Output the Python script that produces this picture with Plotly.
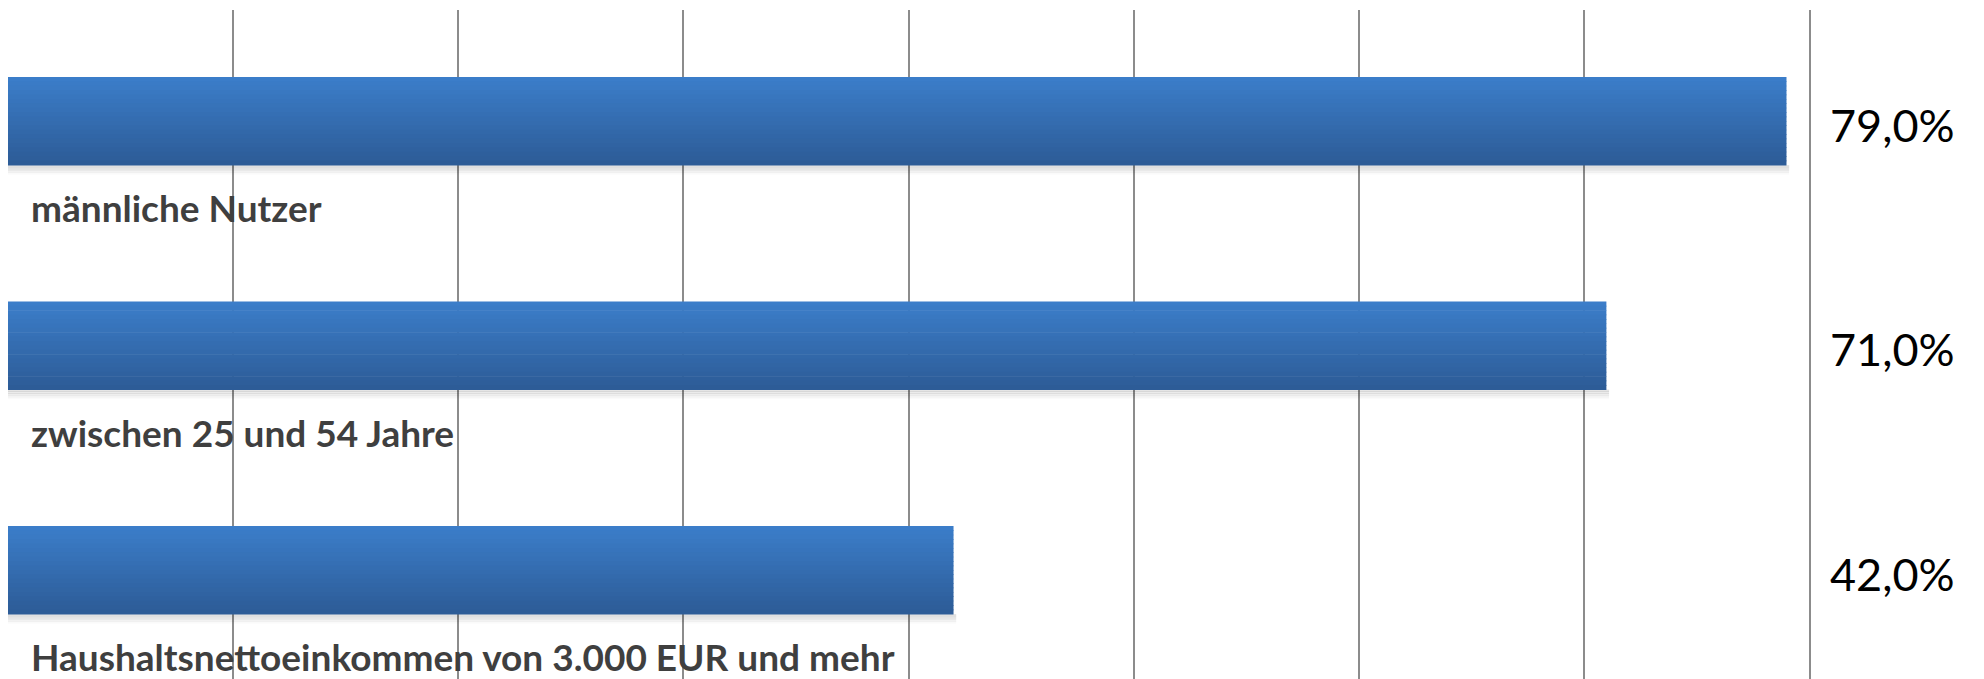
import plotly.graph_objects as go

categories = ["männliche Nutzer", "zwischen 25 und 54 Jahre",
              "Haushaltsnettoeinkommen von 3.000 EUR und mehr"]
values = [79.0, 71.0, 42.0]
x_ticks = [0, 10, 20, 30, 40, 50, 60, 70, 80]

TOP = (59, 125, 201)
BOT = (45, 92, 151)
N = 20
BAR_W = 0.392

fig = go.Figure()

# soft shadow below the bars
for k, a in enumerate([0.10, 0.08, 0.06, 0.04, 0.02]):
    fig.add_trace(go.Bar(
        y=categories, x=[v + 0.12 for v in values], orientation="h",
        width=0.012, offset=BAR_W / 2 + k * 0.008,
        marker=dict(color=f"rgba(0,0,0,{a})", line=dict(width=0)),
        hoverinfo="skip", showlegend=False))

# gradient bars built from thin strips
step = BAR_W / N
for i in range(N):
    t = i / (N - 1)
    c = tuple(round(TOP[j] + (BOT[j] - TOP[j]) * t) for j in range(3))
    fig.add_trace(go.Bar(
        y=categories, x=values, orientation="h",
        width=step * 1.15, offset=-BAR_W / 2 + i * step,
        marker=dict(color=f"rgb{c}", line=dict(width=0)),
        hoverinfo="skip", showlegend=False))

annotations = []
for cat, v in zip(categories, values):
    annotations.append(dict(
        xref="paper", yref="y", x=0, y=cat, xanchor="left", yanchor="middle",
        xshift=21, yshift=-87, showarrow=False, text=f"<b>{cat}</b>",
        font=dict(family="Lato", size=37, color="#3f3f3f")))
    annotations.append(dict(
        xref="paper", yref="y", x=1, y=cat, xanchor="right", yanchor="middle",
        xshift=148, yshift=-4, showarrow=False,
        text=f"{v:.1f}".replace(".", ",") + "%",
        font=dict(family="Lato", size=45, color="#000000")))

fig.update_layout(
    width=1976, height=671,
    margin=dict(l=0, r=175, t=2, b=0, pad=0),
    paper_bgcolor="white", plot_bgcolor="white",
    barmode="overlay", showlegend=False,
    annotations=annotations,
    xaxis=dict(range=[0, 80], tickvals=x_ticks, showticklabels=False,
               showgrid=True, gridcolor="#8c8c8c", gridwidth=2,
               zeroline=False, showline=False, fixedrange=True),
    yaxis=dict(type="category", categoryarray=categories,
               range=[2.486, -0.494], showticklabels=False, showgrid=False,
               zeroline=False, showline=True, mirror=True,
               linecolor="#8c8c8c", linewidth=2, ticks="", fixedrange=True),
)

fig.write_html("out.html")
